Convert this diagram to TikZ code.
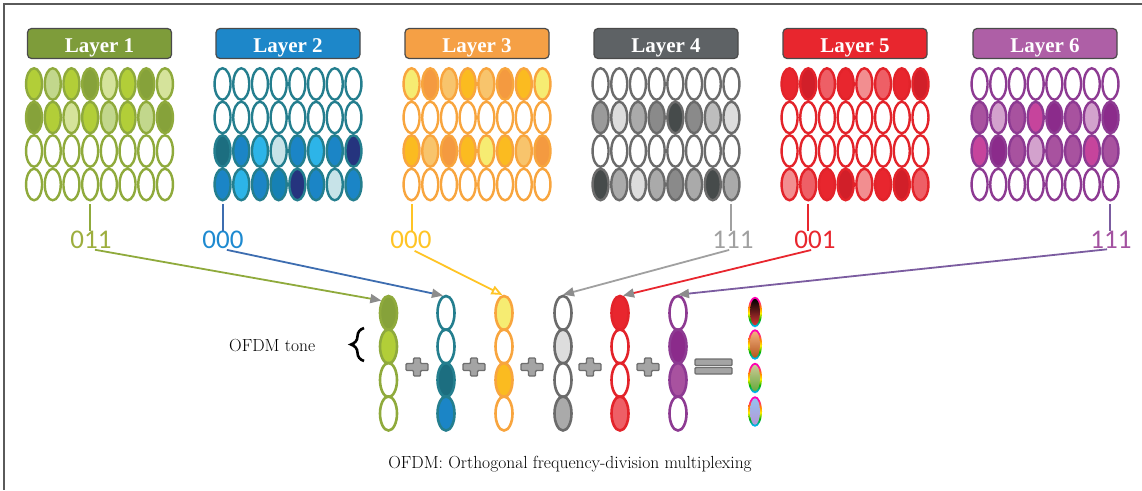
\documentclass[tikz,border=0pt]{standalone}
\usepackage{fontspec}
\newfontfamily\lserif{Liberation Serif}
\newfontfamily\numfont{Carlito}
\usetikzlibrary{shapes.geometric,arrows.meta,decorations.pathreplacing}
% green
\definecolor{gBox}{HTML}{7E9C3A}\definecolor{gLine}{HTML}{8FAA3C}
\definecolor{gDark}{HTML}{86A23A}\definecolor{gBright}{HTML}{B2CE38}
\definecolor{gPale}{HTML}{D5E39B}\definecolor{gMid}{HTML}{C2D78C}
\definecolor{gNum}{HTML}{9DAE3E}
% blue
\definecolor{bBox}{HTML}{1D87C9}\definecolor{bLine}{HTML}{247E8E}
\definecolor{bTeal}{HTML}{1C6E80}\definecolor{bBlue}{HTML}{1B85C6}
\definecolor{bLight}{HTML}{2DB4E8}\definecolor{bPale}{HTML}{C7E3E8}
\definecolor{bNavy}{HTML}{25347E}\definecolor{bMid}{HTML}{1681B5}
\definecolor{bNum}{HTML}{1E8AD0}\definecolor{bArr}{HTML}{3D6DB0}
% orange
\definecolor{oBox}{HTML}{F5A045}\definecolor{oLine}{HTML}{F8A53E}
\definecolor{oYellow}{HTML}{F6EC72}\definecolor{oOrange}{HTML}{F49A40}
\definecolor{oLight}{HTML}{F8C46C}\definecolor{oAmber}{HTML}{FBBB20}
\definecolor{oNum}{HTML}{FFC425}
% gray
\definecolor{kBox}{HTML}{5E6265}\definecolor{kLine}{HTML}{6B6B6B}
\definecolor{kMid}{HTML}{9A9A9A}\definecolor{kLight}{HTML}{DDDDDD}
\definecolor{kDark}{HTML}{464B4B}\definecolor{kGray}{HTML}{AAAAAA}
\definecolor{kG2}{HTML}{8A8A8A}\definecolor{kG3}{HTML}{BDBDBD}
\definecolor{kNum}{HTML}{A0A0A0}
% red
\definecolor{rBox}{HTML}{E8262E}\definecolor{rLine}{HTML}{E3232A}
\definecolor{rRed}{HTML}{E8262E}\definecolor{rDark}{HTML}{D11F29}
\definecolor{rLight}{HTML}{EE5F66}\definecolor{rPink}{HTML}{F28E90}
% purple
\definecolor{pBox}{HTML}{AE5FA6}\definecolor{pLine}{HTML}{8D3A92}
\definecolor{pMid}{HTML}{A8529F}\definecolor{pLight}{HTML}{D3A2CD}
\definecolor{pMag}{HTML}{C6449C}\definecolor{pDark}{HTML}{8B2B8B}
\definecolor{pNum}{HTML}{A352A0}\definecolor{pArr}{HTML}{7B5CA0}
% misc
\definecolor{boxline}{HTML}{4A4A4A}\definecolor{tipgray}{HTML}{8C8C8C}
\definecolor{opgray}{HTML}{6E6E6E}\definecolor{pgray}{HTML}{A4A4A4}
\definecolor{framec}{HTML}{5A5A5A}
\pgfdeclareverticalshading{ringshade}{100bp}{color(0bp)=(cyan!70!blue); color(27bp)=(cyan!70!blue); color(38bp)=(green!70!black); color(48bp)=(yellow!90!orange); color(58bp)=(orange); color(70bp)=(magenta!70!red); color(100bp)=(magenta!70!red)}

\newcommand\mklayer[8]{%
 \node[layerbox, fill=#3] (box#1) at (#2,43.5) {\raisebox{-1.8pt}{Layer #1}};
 \foreach \cc [count=\i from 0] in {#5} \node[cell, draw=#4, fill=\cc] (L#1-1-\i) at ({#2+(\i-3.5)*18.7},84) {};
 \foreach \cc [count=\i from 0] in {#6} \node[cell, draw=#4, fill=\cc] (L#1-2-\i) at ({#2+(\i-3.5)*18.7},117.5) {};
 \foreach \cc [count=\i from 0] in {#7} \node[cell, draw=#4, fill=\cc] (L#1-3-\i) at ({#2+(\i-3.5)*18.7},151) {};
 \foreach \cc [count=\i from 0] in {#8} \node[cell, draw=#4, fill=\cc] (L#1-4-\i) at ({#2+(\i-3.5)*18.7},184.5) {};
}
\newcommand\mkcol[4]{%
 \foreach \ff [count=\j] in {#4} \node[bcell, draw=#3, fill=\ff] (c#1-\j) at (#2,{313+(\j-1)*33.5}) {};
}
\newcommand\mkplus[2]{%
 \draw[plusst, shift={(#2)}] (-11,-3.5) -- (-3.5,-3.5) -- (-3.5,-9) -- (3.5,-9) -- (3.5,-3.5) -- (11,-3.5) -- (11,3.5) -- (3.5,3.5) -- (3.5,9) -- (-3.5,9) -- (-3.5,3.5) -- (-11,3.5) -- cycle;
}

\begin{document}
\begin{tikzpicture}[x=1pt,y=-1pt,
  layerbox/.style={draw=boxline, line width=1.2pt, rounded corners=4pt, minimum width=144pt, minimum height=30pt, inner sep=0pt, text=white, font=\lserif\bfseries\fontsize{21}{21}\selectfont, text height=14pt, text depth=0pt},
  cell/.style={ellipse, inner sep=0pt, minimum width=16pt, minimum height=31.5pt, line width=2.4pt},
  bcell/.style={ellipse, inner sep=0pt, minimum width=17pt, minimum height=34pt, line width=2.6pt},
  rcell/.style={ellipse, inner sep=0pt, minimum width=14pt, minimum height=30.5pt},
  icell/.style={ellipse, inner sep=0pt, minimum width=10pt, minimum height=26.5pt},
  num/.style={font=\numfont\fontsize{27}{27}\selectfont, inner sep=0pt},
  tick/.style={line width=2pt, shorten <=3pt},
  arr/.style={line width=1.8pt, -{Triangle[length=11pt,width=9pt,color=tipgray]}, shorten <=4pt},
  plusst/.style={draw=opgray, fill=pgray, line width=1.4pt, rounded corners=1pt},
  serifl/.style={font=\fontsize{17.5}{17.5}\selectfont, inner sep=0pt}]
\useasboundingbox (0,0) rectangle (1142,490);
\draw[framec, line width=1.5pt] (1142,4) -- (4,4) -- (4,490);

\mklayer{1}{99.5}{gBox}{gLine}{gBright,gMid,gBright,gDark,gPale,gBright,gDark,gPale}{gDark,gBright,gPale,gBright,gMid,gBright,gMid,gDark}{white,white,white,white,white,white,white,white}{white,white,white,white,white,white,white,white}
\mklayer{2}{288}{bBox}{bLine}{white,white,white,white,white,white,white,white}{white,white,white,white,white,white,white,white}{bTeal,bBlue,bLight,bPale,bBlue,bLight,bBlue,bNavy}{bBlue,bLight,bBlue,bMid,bNavy,bBlue,bPale,bBlue}
\mklayer{3}{477}{oBox}{oLine}{oYellow,oOrange,oLight,oAmber,oLight,oOrange,oAmber,oYellow}{white,white,white,white,white,white,white,white}{oAmber,oLight,oOrange,oAmber,oYellow,oAmber,oLight,oOrange}{white,white,white,white,white,white,white,white}
\mklayer{4}{666}{kBox}{kLine}{white,white,white,white,white,white,white,white}{kMid,kLight,kGray,kG2,kDark,kG2,kG3,kLight}{white,white,white,white,white,white,white,white}{kDark,kGray,kLight,kGray,kG2,kGray,kDark,kGray}
\mklayer{5}{855}{rBox}{rLine}{rRed,rDark,rLight,rRed,rPink,rLight,rRed,rDark}{white,white,white,white,white,white,white,white}{white,white,white,white,white,white,white,white}{rPink,rLight,rRed,rDark,rPink,rRed,rDark,rLight}
\mklayer{6}{1045}{pBox}{pLine}{white,white,white,white,white,white,white,white}{pMid,pLight,pMid,pMag,pDark,pMid,pLight,pDark}{pMag,pDark,pMid,pLight,pMid,pMid,pMag,pMid}{white,white,white,white,white,white,white,white}

% bit labels
\node[num, text=gNum] (n1) at (91,240) {011};
\node[num, text=bNum] (n2) at (223,240) {000};
\node[num, text=oNum] (n3) at (411,240) {000};
\node[num, text=kNum] (n4) at (733,240) {111};
\node[num, text=rRed] (n5) at (815,240) {001};
\node[num, text=pNum] (n6) at (1111,240) {111};

% ticks
\draw[tick, gLine] (L1-4-3.south) -- (L1-4-3.south |- n1.north);
\draw[tick, bArr] (L2-4-0.south) -- (L2-4-0.south |- n2.north);
\draw[tick, oNum] (L3-4-0.south) -- (L3-4-0.south |- n3.north);
\draw[tick, kNum] (L4-4-7.south) -- (L4-4-7.south |- n4.north);
\draw[tick, rRed] (L5-4-1.south) -- (L5-4-1.south |- n5.north);
\draw[tick, pArr] (L6-4-7.south) -- (L6-4-7.south |- n6.north);

% bottom columns
\mkcol{1}{388.5}{gLine}{gDark,gBright,white,white}
\mkcol{2}{446}{bLine}{white,white,bTeal,bBlue}
\mkcol{3}{504}{oLine}{oYellow,white,oAmber,white}
\mkcol{4}{563}{kLine}{white,kLight,white,kGray}
\mkcol{5}{620}{rLine}{rRed,white,white,rLight}
\mkcol{6}{678}{pLine}{white,pDark,pMid,white}

% result column
\foreach \yy [count=\j] in {312,344.5,378,411.5}
  \node[rcell, shading=ringshade] (r\j) at (755,\yy) {};
\node[icell, top color=black, middle color={rgb,255:red,70;green,30;blue,90}, bottom color={rgb,255:red,215;green,55;blue,55}] (ri1) at (r1) {};
\node[icell, top color={rgb,255:red,242;green,176;blue,126}, bottom color={rgb,255:red,181;green,86;blue,30}] (ri2) at (r2) {};
\node[icell, top color={rgb,255:red,205;green,200;blue,150}, bottom color={rgb,255:red,100;green,170;blue,60}] (ri3) at (r3) {};
\node[icell, top color={rgb,255:red,150;green,195;blue,240}, middle color={rgb,255:red,215;green,210;blue,240}, bottom color={rgb,255:red,180;green,150;blue,215}] (ri4) at (r4) {};

% arrows
\draw[arr, gLine] (n1.south) -- (c1-1.120);
\draw[arr, bArr] (n2.south) -- (c2-1.100);
\draw[line width=1.8pt, oNum, shorten <=4pt, -{Triangle[open,length=11pt,width=9pt]}] (n3.south) -- (c3-1.95);
\draw[arr, kNum] (n4.south) -- (c4-1.90);
\draw[arr, rRed] (n5.south) -- (c5-1.80);
\draw[arr, pArr] (n6.south) -- (c6-1.90);

% operators
\mkplus{p1}{417,367}
\mkplus{p2}{474,367}
\mkplus{p3}{532,367}
\mkplus{p4}{590,367}
\mkplus{p5}{648,367}
\draw[plusst] (695,359) rectangle (732,365.5);
\draw[plusst] (695,367.5) rectangle (732,374);

% OFDM tone label and brace
\node[serifl, anchor=base west] (tone) at (229,351) {OFDM tone};
\draw[line width=2.6pt, decorate, decoration={brace, amplitude=13pt}] (364,361) -- (364,328);

% caption
\node[serifl, anchor=base] (cap) at (570,468) {OFDM: Orthogonal frequency-division multiplexing};
\end{tikzpicture}
\end{document}
